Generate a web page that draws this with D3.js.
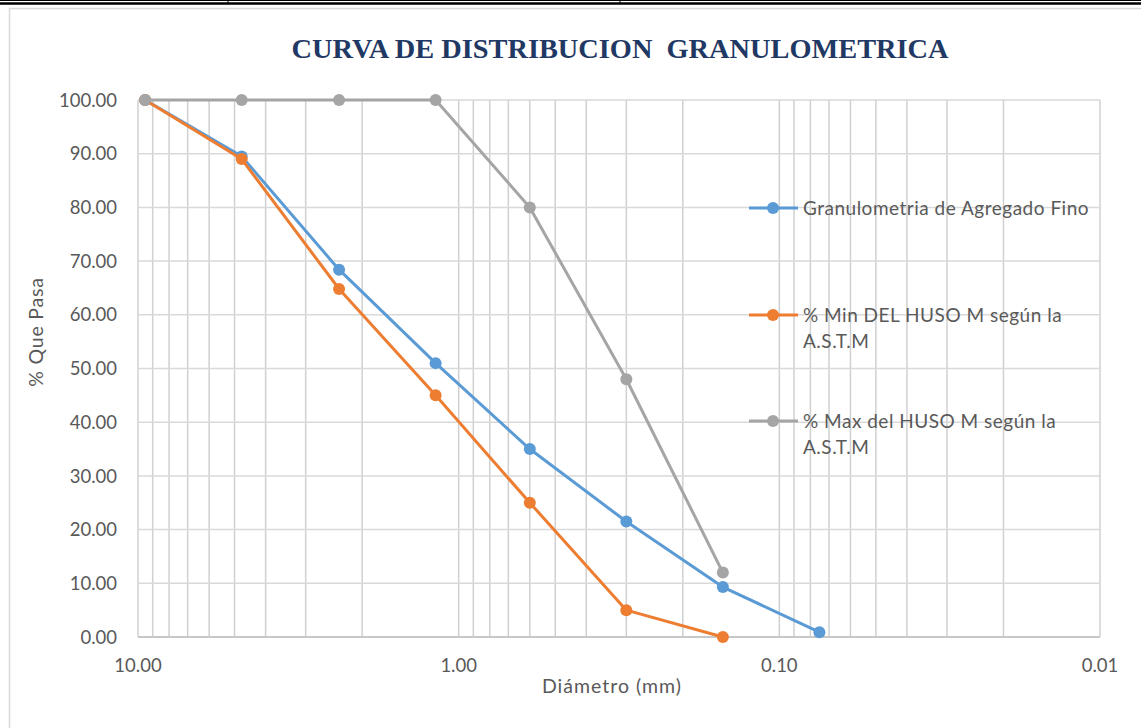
<!DOCTYPE html>
<html><head><meta charset="utf-8">
<script src="https://cdn.jsdelivr.net/npm/d3@7"></script>
<style>
html,body{margin:0;padding:0;background:#fff;}
svg{display:block;}
text{font-family:Lato,"Open Sans",sans-serif;}
</style></head>
<body>
<script>
const sieves = [9.5, 4.75, 2.36, 1.18, 0.6, 0.3, 0.15, 0.075];
const fino   = [100, 89.5, 68.4, 51.0, 35.0, 21.5, 9.3, 0.9];
const minHuso = [100, 89, 64.8, 45, 25, 5, 0];
const maxHuso = [100, 100, 100, 100, 80, 48, 12];
const seriesNames = ["Granulometria de Agregado Fino", "% Min DEL HUSO M según la|A.S.T.M", "% Max del HUSO M según la|A.S.T.M"];
const seriesColors = ["#5B9BD5", "#ED7D31", "#A5A5A5"];
const yTicks = [0,10,20,30,40,50,60,70,80,90,100];
const xTicks = [10, 1, 0.1, 0.01];

const W = 1141, H = 728;
const svg = d3.select("body").append("svg").attr("width", W).attr("height", H);

// top page lines
svg.append("line").attr("x1",0).attr("x2",W).attr("y1",0.5).attr("y2",0.5).attr("stroke","#000").attr("stroke-width",1);
svg.append("line").attr("x1",0).attr("x2",W).attr("y1",3.5).attr("y2",3.5).attr("stroke","#000").attr("stroke-width",2.5);
[228, 620].forEach(x => svg.append("line").attr("x1",x).attr("x2",x).attr("y1",0).attr("y2",3).attr("stroke","#000").attr("stroke-width",1));
// chart frame
svg.append("rect").attr("x",9.5).attr("y",8.5).attr("width",W+20).attr("height",H+20).attr("fill","none").attr("stroke","#D9D9D9").attr("stroke-width",1.5);

const L = 138, R = 1100, T = 100, B = 637;
const x = d3.scaleLog().domain([10, 0.01]).range([L, R]);
const y = d3.scaleLinear().domain([0, 100]).range([B, T]);

// gridlines
const g = svg.append("g");
const vGrid = [];
for (let e = -2; e <= 0; e++) for (let k = 1; k <= 9; k++) vGrid.push(k * Math.pow(10, e));
vGrid.push(10);
g.selectAll("line.v").data(vGrid).enter().append("line")
  .attr("x1", d => x(d)).attr("x2", d => x(d)).attr("y1", T).attr("y2", B)
  .attr("stroke", "#D0D0D0").attr("stroke-width", 1.5);
g.selectAll("line.h").data(yTicks).enter().append("line")
  .attr("x1", L).attr("x2", R).attr("y1", d => y(d)).attr("y2", d => y(d))
  .attr("stroke", "#D9D9D9").attr("stroke-width", 1.5);
g.append("line").attr("x1",L).attr("x2",R).attr("y1",B).attr("y2",B).attr("stroke","#C8C8C8").attr("stroke-width",1.8);

// axes labels
svg.append("g").selectAll("text").data(yTicks).enter().append("text")
  .attr("x", 117).attr("y", d => y(d)).attr("dy","0.36em").attr("text-anchor","end")
  .attr("font-size", 18.5).attr("fill","#595959").text(d => d3.format(".2f")(d));
svg.append("g").selectAll("text").data(xTicks).enter().append("text")
  .attr("x", d => x(d)).attr("y", 672).attr("text-anchor","middle")
  .attr("font-size", 18.5).attr("fill","#595959").text(d => d3.format(".2f")(d));

svg.append("text").attr("x", 612).attr("y", 693).attr("text-anchor","middle")
  .attr("font-size", 19.5).attr("letter-spacing", 1).attr("fill","#595959").text("Diámetro (mm)");
svg.append("text").attr("transform","translate(43,332) rotate(-90)").attr("text-anchor","middle")
  .attr("font-size", 19.5).attr("letter-spacing", 0.8).attr("fill","#595959").text("% Que Pasa");

// title
svg.append("text").attr("x", 620).attr("y", 58).attr("text-anchor","middle")
  .style("font-family", "'Liberation Serif','Times New Roman',serif").style("white-space","pre")
  .attr("font-weight","bold").attr("font-size", 28).attr("fill","#1F3864")
  .attr("textLength", 657).attr("lengthAdjust","spacingAndGlyphs")
  .text("CURVA DE DISTRIBUCION  GRANULOMETRICA");

// series
const data = [fino, minHuso, maxHuso];
const line = d3.line().x(d => x(d[0])).y(d => y(d[1]));
data.forEach((vals, i) => {
  const pts = vals.map((v, j) => [sieves[j], v]);
  const sg = svg.append("g");
  sg.append("path").attr("d", line(pts)).attr("fill","none").attr("stroke", seriesColors[i]).attr("stroke-width", 3).attr("stroke-linejoin","round");
  sg.selectAll("circle").data(pts).enter().append("circle")
    .attr("cx", d => x(d[0])).attr("cy", d => y(d[1])).attr("r", 6).attr("fill", seriesColors[i]);
});

// legend
const legY = [208, 315, 421];
seriesNames.forEach((name, i) => {
  const lg = svg.append("g");
  lg.append("line").attr("x1", 749).attr("x2", 798).attr("y1", legY[i]).attr("y2", legY[i]).attr("stroke", seriesColors[i]).attr("stroke-width", 3);
  lg.append("circle").attr("cx", 773).attr("cy", legY[i]).attr("r", 6).attr("fill", seriesColors[i]);
  name.split("|").forEach((t, k) => {
    lg.append("text").attr("x", 803).attr("y", legY[i] + k * 26).attr("dy","0.36em")
      .attr("font-size", 19).attr("letter-spacing", 0.5).attr("fill","#595959").text(t);
  });
});
</script>
</body></html>
